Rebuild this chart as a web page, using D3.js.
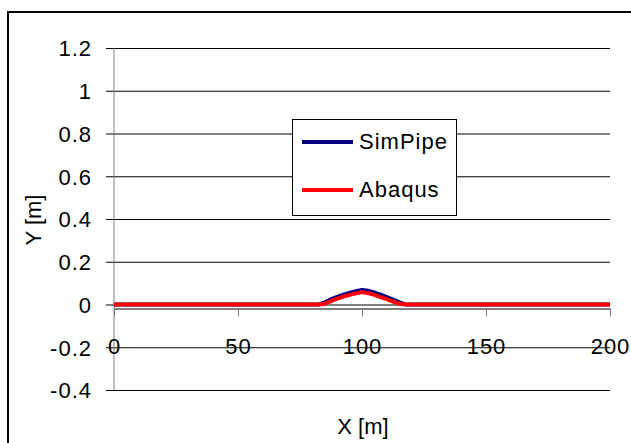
<!DOCTYPE html>
<html>
<head>
<meta charset="utf-8">
<script src="https://cdn.jsdelivr.net/npm/d3@7"></script>
<style>
  html, body { margin: 0; padding: 0; background: #fff; }
  svg { display: block; font-family: "Liberation Sans", Arial, sans-serif; }
</style>
</head>
<body>
<svg id="chart" width="631" height="443"></svg>
<script>
// ---- data ----
const xValues      = [0, 80, 82.5, 85, 87.5, 90, 92.5, 95, 97.5, 100, 102.5, 105, 107.5, 110, 112.5, 115, 117.5, 120, 200];
const simPipeY     = [0, 0, 0, 0.010, 0.024, 0.036, 0.046, 0.054, 0.062, 0.068, 0.064, 0.056, 0.046, 0.035, 0.023, 0.011, 0, 0, 0];
const abaqusY      = [0, 0, 0, 0.004, 0.016, 0.027, 0.037, 0.045, 0.052, 0.058, 0.053, 0.045, 0.035, 0.025, 0.014, 0.004, 0, 0, 0];
const seriesNames  = ["SimPipe", "Abaqus"];
const seriesColors = ["#000080", "#FF0000"];
const xTicks       = [0, 50, 100, 150, 200];
const yTicks       = [-0.4, -0.2, 0, 0.2, 0.4, 0.6, 0.8, 1, 1.2];

const svg = d3.select("#chart");
const FONT = "Liberation Sans, Arial, sans-serif";
const fmt = d => String(+d.toFixed(1)).replace("\u2212", "-");

// outer chart border
svg.append("rect").attr("x", 8).attr("y", 12).attr("width", 660).attr("height", 460)
  .attr("fill", "#fff").attr("stroke", "#000").attr("stroke-width", 2);

const x = d3.scaleLinear().domain([0, 200]).range([114, 610]);
const y = d3.scaleLinear().domain([-0.4, 1.2]).range([390, 48]);

// horizontal gridlines with left ticks
const yAxis = d3.axisLeft(y).tickValues(yTicks).tickSizeOuter(0).tickFormat(fmt);
const gy = svg.append("g").attr("transform", "translate(114,0)").call(yAxis);
gy.select(".domain").remove();
gy.selectAll(".tick line").attr("x1", -8).attr("x2", 496).attr("stroke", "#000").attr("stroke-width", 1);
gy.selectAll(".tick text").attr("x", -22).attr("dy", "0.36em")
  .attr("font-size", 22).attr("letter-spacing", 1).attr("fill", "#000")
  .attr("font-family", FONT);

// vertical axis line (gray)
svg.append("line").attr("x1", 114).attr("x2", 114).attr("y1", y(1.2)).attr("y2", y(-0.4))
  .attr("stroke", "#808080").attr("stroke-width", 1);

// x axis (line near y=0, ticks down)
const xAxisY = y(0) + 4;
const xAxis = d3.axisBottom(x).tickValues(xTicks).tickSize(8).tickSizeOuter(0).tickFormat(fmt);
const gx = svg.append("g").attr("transform", `translate(0,${xAxisY})`).call(xAxis);
gx.select(".domain").attr("stroke", "#000").attr("stroke-width", 1.2);
gx.selectAll(".tick line").attr("stroke", "#808080");
gx.selectAll(".tick text").attr("y", y(-0.2) - xAxisY).attr("dy", "0.32em")
  .attr("font-size", 22).attr("letter-spacing", 1).attr("fill", "#000")
  .attr("font-family", FONT);

// series
const seriesData = [simPipeY, abaqusY];
const line = d3.line().x((d, i) => x(xValues[i])).y(d => y(d));
seriesData.forEach((vals, k) => {
  svg.append("path").datum(vals).attr("d", line)
    .attr("fill", "none").attr("stroke", seriesColors[k]).attr("stroke-width", 4)
    .attr("stroke-linejoin", "round");
});

// axis titles
svg.append("text").attr("x", 363).attr("y", 434).attr("text-anchor", "middle")
  .attr("font-size", 22).text("X [m]");
svg.append("text").attr("transform", "translate(41,220) rotate(-90)").attr("text-anchor", "middle")
  .attr("font-size", 22).text("Y [m]");

// legend
const lg = svg.append("g");
lg.append("rect").attr("x", 292.5).attr("y", 119.5).attr("width", 164).attr("height", 96)
  .attr("fill", "#fff").attr("stroke", "#000").attr("stroke-width", 1);
const legendY = [142, 190];
seriesNames.forEach((name, k) => {
  lg.append("line").attr("x1", 302).attr("x2", 353).attr("y1", legendY[k]).attr("y2", legendY[k])
    .attr("stroke", seriesColors[k]).attr("stroke-width", 4);
  lg.append("text").attr("x", 359).attr("y", legendY[k] + 6).attr("font-size", 22)
    .attr("letter-spacing", 1).attr("dy", "0.05em").text(name);
});
</script>
</body>
</html>
